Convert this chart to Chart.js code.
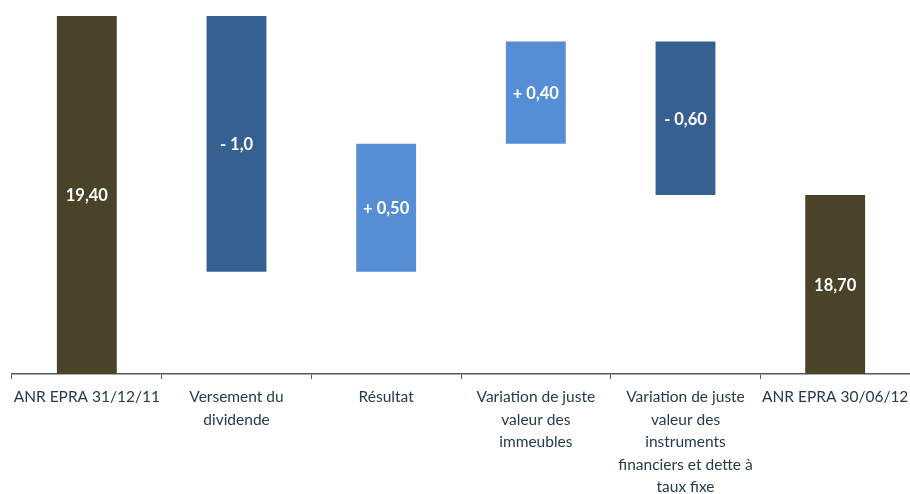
<!DOCTYPE html>
<html lang="fr">
<head>
<meta charset="utf-8" />
<title>ANR EPRA</title>
<script src="https://cdn.jsdelivr.net/npm/chart.js@4/dist/chart.umd.min.js"></script>
<style>
	html, body { margin: 0; padding: 0; background: #fff; }
	#wrap { width: 910px; height: 494px; }
</style>
</head>
<body>
<div id="wrap"><canvas id="chart"></canvas></div>
<script>
	// categories (wrapped as in the original)
	var categories = [
		["ANR EPRA 31/12/11"],
		["Versement du", "dividende"],
		["Résultat"],
		["Variation de juste", "valeur des", "immeubles"],
		["Variation de juste", "valeur des", "instruments", "financiers et dette à", "taux fixe"],
		["ANR EPRA 30/06/12"]
	];
	var startValue = 19.40;
	var changes = [-1.0, 0.50, 0.40, -0.60];
	var endValue = 18.70;
	var barLabels = ["19,40", "- 1,0", "+ 0,50", "+ 0,40", "- 0,60", "18,70"];
	var axisMin = 18;
	var axisMax = 19.4;

	var olive = "#4a4329", darkBlue = "#376092", lightBlue = "#558ed5";

	// build floating bars for the waterfall
	var ranges = [[axisMin, startValue]];
	var colors = [olive];
	var running = startValue;
	changes.forEach(function (c) {
		var next = running + c;
		ranges.push([Math.min(running, next), Math.max(running, next)]);
		colors.push(c < 0 ? darkBlue : lightBlue);
		running = next;
	});
	ranges.push([axisMin, endValue]);
	colors.push(olive);

	var innerLabels = {
		id: "innerLabels",
		afterDatasetsDraw: function (chart) {
			var ctx = chart.ctx;
			var meta = chart.getDatasetMeta(0);
			ctx.save();
			ctx.fillStyle = "#ffffff";
			ctx.font = "bold 16.5px Lato";
			ctx.textAlign = "center";
			ctx.textBaseline = "middle";
			meta.data.forEach(function (bar, i) {
				var y = (bar.y + bar.base) / 2 + 1;
				ctx.fillText(barLabels[i], bar.x, y);
			});
			ctx.restore();
		}
	};

	new Chart(document.getElementById("chart"), {
		type: "bar",
		data: {
			labels: categories,
			datasets: [{
				data: ranges,
				backgroundColor: colors,
				borderWidth: 0,
				categoryPercentage: 1,
				barPercentage: 0.4
			}]
		},
		options: {
			responsive: true,
			maintainAspectRatio: false,
			animation: false,
			layout: { padding: { left: 12, right: 0, top: 16, bottom: 0 } },
			plugins: { legend: { display: false }, tooltip: { enabled: false } },
			scales: {
				y: { display: false, min: axisMin, max: axisMax },
				x: {
					grid: {
						offset: true,
						drawOnChartArea: false,
						drawTicks: true,
						tickLength: 5,
						color: "#4d5b69"
					},
					border: { color: "#4d5b69", width: 1.5 },
					ticks: {
						color: "#263a4c",
						font: { family: "Lato", size: 15.5, lineHeight: 1.45 },
						padding: 7,
						maxRotation: 0,
						autoSkip: false
					},
					afterFit: function (scale) {
						scale.height = 120;
						scale.paddingLeft = 0;
						scale.paddingRight = 0;
					}
				}
			}
		},
		plugins: [innerLabels]
	});
</script>
</body>
</html>
